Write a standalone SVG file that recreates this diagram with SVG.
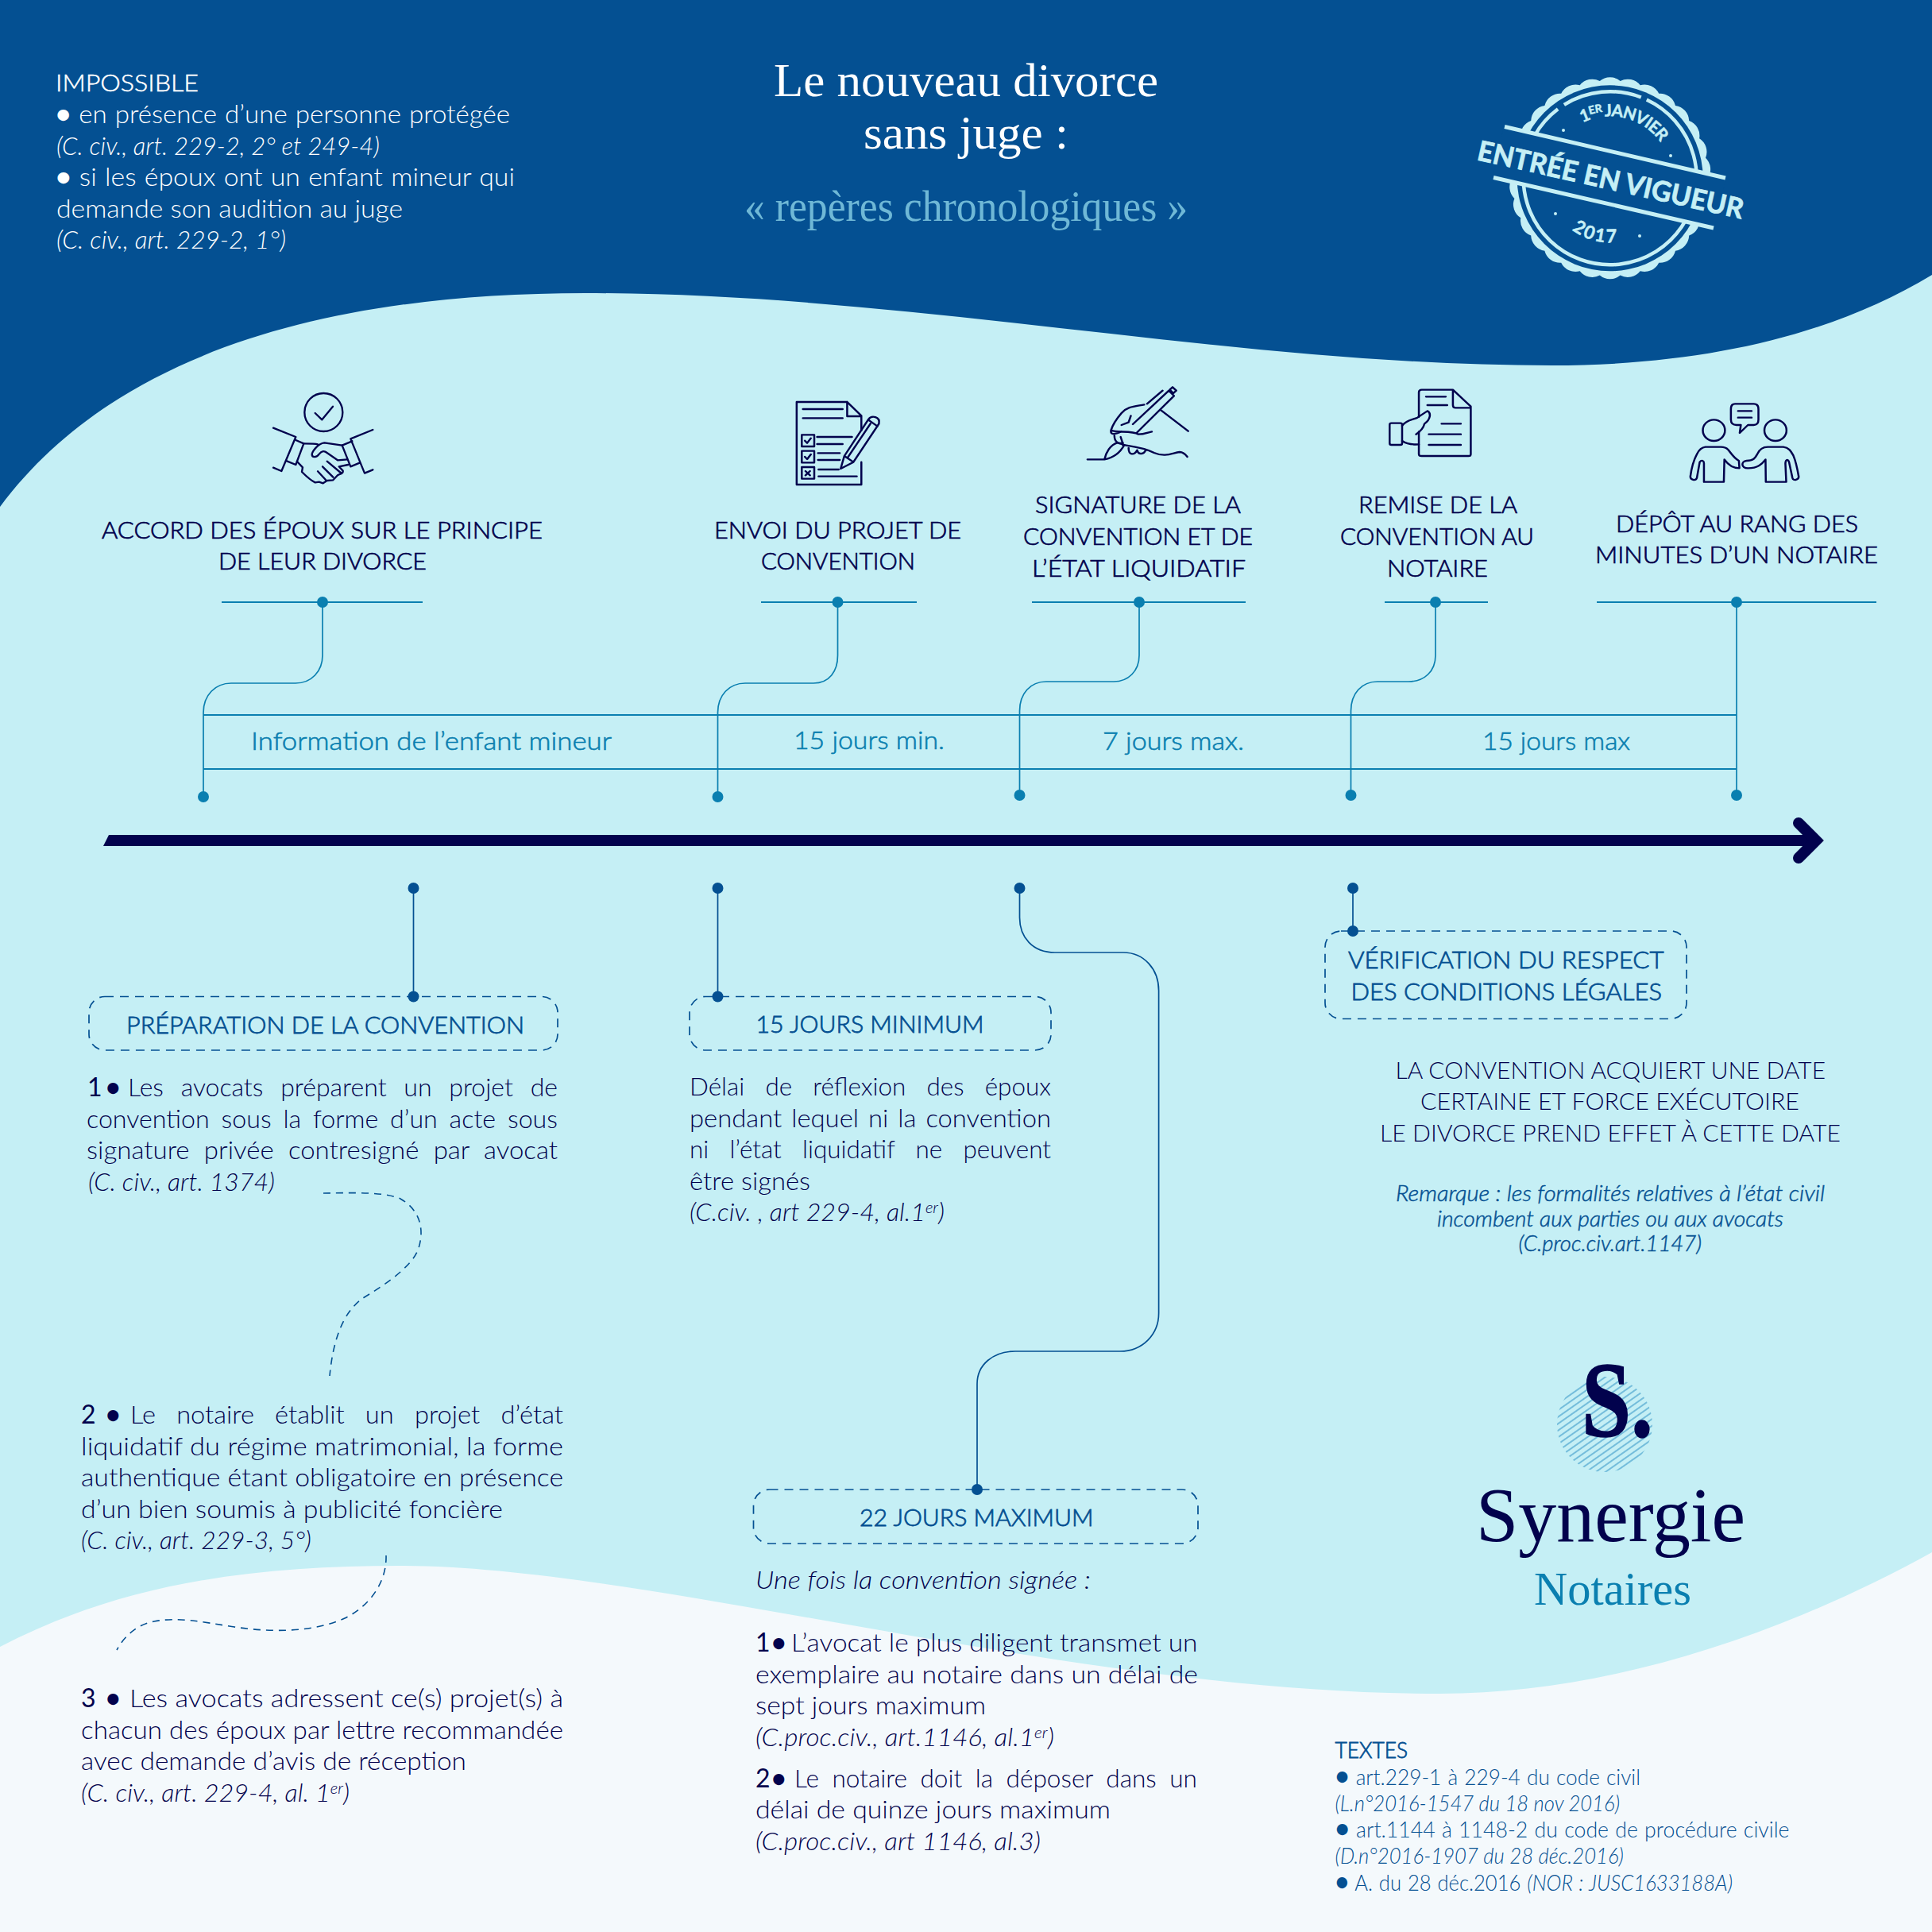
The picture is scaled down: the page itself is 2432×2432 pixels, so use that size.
<svg xmlns="http://www.w3.org/2000/svg" width="2432" height="2432" viewBox="0 0 2432 2432">
<style>
text{font-family:Lato,"Noto Sans",sans-serif;font-weight:300;font-size:32px;fill:#02024d}
.w{fill:#fff;font-size:32px}
.i{font-style:italic}
.h{font-size:30px;stroke:#02024d;stroke-width:.7}
.cap{font-size:30px}
.bl{fill:#045092;font-size:30px;stroke:#045092;stroke-width:.8}
.t{fill:#0a7fb0;font-size:32px;stroke:#0a7fb0;stroke-width:.6}
.s{font-family:"Liberation Serif",serif;font-weight:400}
.b{font-weight:700;font-size:32px}
.n{font-weight:400}
.sup{font-size:20px}
.rem{fill:#045092;font-size:27px;font-style:italic;stroke:#045092;stroke-width:.5}
.tx{fill:#045092;font-size:27px}
.st{fill:#c5eff5;font-weight:700;stroke:#c5eff5;stroke-width:.5}
.ico{fill:none;stroke:#02024d;stroke-width:7;stroke-linecap:round;stroke-linejoin:round}
.lt{fill:none;stroke:#0a7fb0;stroke-width:1.7}
.lb{fill:none;stroke:#045092;stroke-width:1.7}
.box{fill:none;stroke:#045092;stroke-width:1.7;stroke-dasharray:11 8}
.dash{fill:none;stroke:#045092;stroke-width:1.6;stroke-dasharray:9 7}
.dt{fill:#0a7fb0}
.db{fill:#045092}
</style>
<defs>
<pattern id="hatch" width="7" height="7" patternUnits="userSpaceOnUse" patternTransform="rotate(-35)"><line x1="0" y1="3" x2="7" y2="3" stroke="#5fb0d5" stroke-width="1.6"/></pattern>
<path id="arcTop" d="M-39,-67.5 A78,78 0 0 1 67.5,-39"/>
<path id="arcBot" d="M-52,62 A81,81 0 0 0 14,79.8"/>
</defs>

<g id="background">
<rect width="2432" height="2432" fill="#045092"/>
<path fill="#c5eff5" d="M0,638 C140,450 400,369 737,369 C1150,369 1550,460 1953,460 C2150,460 2310,420 2432,346 V2432 H0 Z"/>
<path fill="#f4f9fc" d="M0,2073 C150,1995 310,1971 504,1971 C820,1971 1350,2132 1813,2132 C2020,2132 2240,2060 2432,1954 V2432 H0 Z"/>
</g>

<g id="impossible">
<text class="w" x="70" y="115" style="font-size:30px;stroke:#fff;stroke-width:.5" textLength="180" lengthAdjust="spacingAndGlyphs">IMPOSSIBLE</text>
<text class="w" x="70" y="155" textLength="572" lengthAdjust="spacingAndGlyphs" word-spacing="1"><tspan class="b">•</tspan> en présence d’une personne protégée</text>
<text class="w i" x="71" y="195" textLength="407" lengthAdjust="spacingAndGlyphs">(C. civ., art. 229-2, 2° et 249-4)</text>
<text class="w" x="70" y="234" textLength="578" lengthAdjust="spacingAndGlyphs" word-spacing="1"><tspan class="b">•</tspan> si les époux ont un enfant mineur qui</text>
<text class="w" x="71" y="274" textLength="436" lengthAdjust="spacingAndGlyphs">demande son audition au juge</text>
<text class="w i" x="71" y="313" textLength="289" lengthAdjust="spacingAndGlyphs">(C. civ., art. 229-2, 1°)</text>
</g>

<g id="title">
<text class="s" x="974" y="121" style="fill:#fff;font-size:60px" textLength="484" lengthAdjust="spacingAndGlyphs">Le nouveau divorce</text>
<text class="s" x="1087" y="187" style="fill:#fff;font-size:60px" textLength="258" lengthAdjust="spacingAndGlyphs">sans juge :</text>
<text class="s" x="937" y="278" style="fill:#6fb8d6;font-size:54px" textLength="558" lengthAdjust="spacingAndGlyphs">« repères chronologiques »</text>
</g>

<g id="stamp">
<g transform="translate(2026.7,224.3)">
<path fill="#c5eff5" d="M123,0 A20 20 0 0 1 120.3,25.6 A20 20 0 0 1 112.4,50 A20 20 0 0 1 99.5,72.3 A20 20 0 0 1 82.3,91.4 A20 20 0 0 1 61.5,106.5 A20 20 0 0 1 38,117 A20 20 0 0 1 12.9,122.3 A20 20 0 0 1 -12.9,122.3 A20 20 0 0 1 -38,117 A20 20 0 0 1 -61.5,106.5 A20 20 0 0 1 -82.3,91.4 A20 20 0 0 1 -99.5,72.3 A20 20 0 0 1 -112.4,50 A20 20 0 0 1 -120.3,25.6 A20 20 0 0 1 -123,0 A20 20 0 0 1 -120.3,-25.6 A20 20 0 0 1 -112.4,-50 A20 20 0 0 1 -99.5,-72.3 A20 20 0 0 1 -82.3,-91.4 A20 20 0 0 1 -61.5,-106.5 A20 20 0 0 1 -38,-117 A20 20 0 0 1 -12.9,-122.3 A20 20 0 0 1 12.9,-122.3 A20 20 0 0 1 38,-117 A20 20 0 0 1 61.5,-106.5 A20 20 0 0 1 82.3,-91.4 A20 20 0 0 1 99.5,-72.3 A20 20 0 0 1 112.4,-50 A20 20 0 0 1 120.3,-25.6 A20 20 0 0 1 123,0 Z"/>
<circle r="117" fill="#045092"/>
<path d="M46.1,-98.8 A109,109 0 1 1 -65.6,-87.1 M-57.8,-92.4 A109,109 0 0 1 39.1,-101.8" fill="none" stroke="#c5eff5" stroke-width="4.5"/>
<text class="st" style="font-size:21px"><textPath href="#arcTop" startOffset="5" textLength="110" lengthAdjust="spacing">1<tspan style="font-size:14px" dy="-6">ER </tspan><tspan dy="6">JANVIER</tspan></textPath></text>
<text class="st" style="font-size:23px"><textPath href="#arcBot" startOffset="5" textLength="60" lengthAdjust="spacing">2017</textPath></text>
</g>
<polygon points="1893,159 2173,224 2158,287 1879,223" fill="#045092"/>
<path d="M1894,159.5 L2172,224 M1880,223.5 L2157,287" stroke="#c5eff5" stroke-width="5" fill="none"/>
<text class="st" transform="translate(1858,201) rotate(12.6)" style="font-size:35px;stroke-width:.8" textLength="342" lengthAdjust="spacingAndGlyphs">ENTRÉE EN VIGUEUR</text>
<g fill="#c5eff5"><circle cx="1968" cy="164" r="2"/><circle cx="2103" cy="196" r="2"/><circle cx="1958" cy="269" r="2"/><circle cx="2064" cy="297" r="2"/></g>
</g>

<g id="connectors">
<path class="lt" style="stroke-width:2" d="M279,758 H532 M958,758 H1154 M1299,758 H1568 M1743,758 H1873 M2010,758 H2362"/>
<path class="lt" style="stroke-width:2" d="M256,900 H2186 M256,968 H2186"/>
<path class="lt" d="M406,758 V825 C406,845 392,860 372,860 H291 C271,860 256,875 256,897 V1003"/>
<path class="lt" d="M1054.5,758 V825 C1054.5,845 1044,860 1024,860 H938 C918,860 903.5,875 903.5,897 V1003"/>
<path class="lt" d="M1434,758 V825 C1434,845 1420,858 1402,858 H1317 C1297,858 1283.5,873 1283.5,895 V1001"/>
<path class="lt" d="M1807,758 V825 C1807,845 1793,858 1773,858 H1734 C1714,858 1700.5,873 1700.5,895 V1001"/>
<path class="lt" d="M2186,758 V1001"/>
<path class="lb" d="M520.5,1118 V1254"/>
<path class="lb" d="M903.5,1118 V1254"/>
<path class="lb" d="M1283.5,1118 V1155 C1283.5,1180 1300,1199 1328,1199 H1414 C1440,1199 1458.6,1220 1458.6,1247 V1653 C1458.6,1680 1438,1701 1410,1701 H1278 C1250,1701 1230,1718 1230,1742 V1875"/>
<path class="lb" d="M1703,1118 V1172"/>
<path class="dash" d="M407,1502 C434,1502 481,1499 504,1509 C527,1522 535,1545 527,1571 C519,1597 473,1624 457,1634 C430,1653 419,1690 415,1732"/>
<path class="dash" d="M486,1958 C487,1992 465,2022 434,2037 C395,2055 341,2055 295,2048 C256,2042 225,2035 194,2041 C171,2045 155,2062 147,2077"/>
<g class="dt"><circle cx="406" cy="758" r="7"/><circle cx="1054.5" cy="758" r="7"/><circle cx="1434" cy="758" r="7"/><circle cx="1807" cy="758" r="7"/><circle cx="2186" cy="758" r="7"/><circle cx="256" cy="1003" r="7"/><circle cx="903.5" cy="1003" r="7"/><circle cx="1283.5" cy="1001" r="7"/><circle cx="1700.5" cy="1001" r="7"/><circle cx="2186" cy="1001" r="7"/></g>
<g class="db"><circle cx="520.5" cy="1118" r="7"/><circle cx="903.5" cy="1118" r="7"/><circle cx="1283.5" cy="1118" r="7"/><circle cx="1703" cy="1118" r="7"/><circle cx="520.5" cy="1254.5" r="7"/><circle cx="903.5" cy="1254.5" r="7"/><circle cx="1230" cy="1875" r="7"/><circle cx="1703" cy="1172" r="7"/></g>
</g>

<g id="timeline">
<polygon points="137,1051 2285,1051 2285,1065 130,1065" fill="#02024d"/>
<path d="M2264,1036 L2286,1058 L2264,1080" fill="none" stroke="#02024d" stroke-width="14" stroke-linecap="round"/>
</g>

<g id="step-accord">
<g transform="translate(300,470) scale(.3333)" class="ico">
<circle cx="322" cy="147" r="72"/><path d="M290,150 L316,175 L357,125"/>
<path d="M132,206 L217,240 L163,369 L132,356 M508,213 L424,247 L477,377 L508,364"/>
<path d="M217,252 L247,265 L217,345 L183,331 M392,272 L430,256 M392,272 L424,352 L458,338"/>
<path d="M247,265 C270,265 290,265 300,268 M325,262 C300,265 280,295 278,305 C278,318 295,320 305,305 C315,292 325,292 335,300 L375,328 L412,325 M325,262 L392,272"/>
<path d="M415,345 L380,352 L395,368 C398,380 385,378 375,385 L358,403 L335,405 L320,415 L305,410 L290,412 C275,405 260,392 240,372 L243,355 L222,333"/>
<path d="M300,370 L330,402 M318,352 L358,392 M335,332 L390,378"/>
</g>
<text class="h" x="128" y="678" textLength="555" lengthAdjust="spacingAndGlyphs">ACCORD DES ÉPOUX SUR LE PRINCIPE</text>
<text class="h" x="275" y="717" textLength="262" lengthAdjust="spacingAndGlyphs">DE LEUR DIVORCE</text>
</g>

<g id="step-envoi">
<g transform="translate(960,470) scale(.3571,.3333)" class="ico">
<path d="M298,108 H120 V420 H348 V335 M348,215 V160 L298,108 V162 H348"/>
<path d="M142,135 H282 M142,169 H282 M192,240 H315 M192,267 H282 M195,301 H272 M195,327 H272 M197,363 H268 M197,389 H332"/>
<rect x="138" y="232" width="44" height="44"/><rect x="138" y="293" width="44" height="44"/><rect x="138" y="354" width="44" height="44"/>
<path d="M149,254 L157,263 L170,245 M149,315 L157,324 L170,306 M151,369 L167,385 M167,369 L151,385"/>
<path d="M275,360 L288,312 L372,175 C385,155 415,165 410,190 L320,335 Z M288,312 L320,335 M300,318 L380,190 M372,175 L405,200"/>
</g>
<text class="h" x="899" y="678" textLength="311" lengthAdjust="spacingAndGlyphs">ENVOI DU PROJET DE</text>
<text class="h" x="958" y="717" textLength="194" lengthAdjust="spacingAndGlyphs">CONVENTION</text>
</g>

<g id="step-signature">
<g transform="translate(960,470) scale(.3571,.3333)" class="ico">
<path d="M1318,225 L1450,85 L1432,65 L1305,192 M1355,115 L1410,65 M1435,62 L1445,52 L1458,65 L1448,75 Z M1405,140 L1500,218"/>
<path d="M1345,118 C1310,125 1285,125 1265,150 C1245,175 1235,190 1228,215 C1225,235 1245,230 1265,220 M1265,195 L1290,185 L1298,160 M1228,215 C1250,225 1300,215 1325,230 C1345,230 1360,222 1372,220"/>
<path d="M1240,235 C1240,260 1255,268 1270,262 M1262,240 C1270,265 1270,270 1270,270"/>
<path d="M1205,325 C1210,300 1225,270 1250,262 L1275,270 C1260,300 1240,318 1205,325 M1145,325 H1205"/>
<path d="M1270,270 C1300,275 1345,280 1380,300 C1420,318 1445,300 1470,297 C1480,297 1490,305 1497,315 M1290,282 C1290,310 1310,310 1320,290 C1325,310 1345,305 1350,290"/>
</g>
<text class="h" x="1303" y="646" textLength="259" lengthAdjust="spacingAndGlyphs">SIGNATURE DE LA</text>
<text class="h" x="1288" y="686" textLength="289" lengthAdjust="spacingAndGlyphs">CONVENTION ET DE</text>
<text class="h" x="1299" y="726" textLength="269" lengthAdjust="spacingAndGlyphs">L’ÉTAT LIQUIDATIF</text>
</g>

<g id="step-remise">
<g transform="translate(1720,460) scale(.3571,.3333)" class="ico">
<path d="M305,92 H195 Q185,92 185,102 V195 M185,250 V335 Q185,342 195,342 H360 Q368,342 368,335 V155 L305,92 V150 Q305,160 315,160 H368"/>
<path d="M210,118 H280 M215,150 H285 M265,220 H333 M220,260 H333 M220,300 H333"/>
<rect x="82" y="218" width="44" height="82" rx="6"/>
<path d="M126,228 C140,205 165,205 180,197 L215,172 C230,180 225,205 205,220 C200,240 190,250 175,260 M126,285 C140,295 160,300 185,298"/>
</g>
<text class="h" x="1710" y="646" textLength="200" lengthAdjust="spacingAndGlyphs">REMISE DE LA</text>
<text class="h" x="1687" y="686" textLength="244" lengthAdjust="spacingAndGlyphs">CONVENTION AU</text>
<text class="h" x="1746" y="726" textLength="127" lengthAdjust="spacingAndGlyphs">NOTAIRE</text>
</g>

<g id="step-depot">
<g transform="translate(1720,460) scale(.3571,.3333)" class="ico">
<ellipse cx="1225" cy="245" rx="39" ry="40"/><ellipse cx="1442" cy="245" rx="39" ry="40"/>
<path d="M1300,145 H1365 Q1382,145 1382,165 V205 Q1382,225 1365,225 H1345 L1316,255 L1320,225 H1305 Q1285,225 1285,205 V165 Q1285,145 1300,145 Z M1310,172 H1358 M1310,197 H1358"/>
<path d="M1190,440 H1260 L1262,355 C1275,375 1290,388 1315,388 L1313,360 C1295,350 1285,330 1275,318 C1268,310 1260,308 1250,308 H1195 C1180,310 1172,320 1165,335 C1150,365 1145,395 1142,420 C1142,432 1160,438 1165,425 L1175,365 C1182,355 1190,360 1190,370 Z"/>
<path d="M1480,440 H1408 L1407,355 C1395,372 1380,388 1345,388 C1320,388 1320,362 1340,360 C1365,360 1370,350 1378,335 C1385,318 1395,308 1415,308 H1470 C1490,310 1497,325 1505,340 C1515,365 1520,395 1524,420 C1524,432 1505,438 1502,425 L1490,365 C1485,352 1478,355 1477,370 Z"/>
</g>
<text class="h" x="2034" y="670" textLength="305" lengthAdjust="spacingAndGlyphs">DÉPÔT AU RANG DES</text>
<text class="h" x="2008" y="709" textLength="356" lengthAdjust="spacingAndGlyphs">MINUTES D’UN NOTAIRE</text>
</g>

<g id="durations">
<text class="t" x="316" y="944" textLength="454" lengthAdjust="spacingAndGlyphs">Information de l’enfant mineur</text>
<text class="t" x="999" y="943" textLength="190" lengthAdjust="spacingAndGlyphs">15 jours min.</text>
<text class="t" x="1388" y="944" textLength="178" lengthAdjust="spacingAndGlyphs">7 jours max.</text>
<text class="t" x="1866" y="944" textLength="186" lengthAdjust="spacingAndGlyphs">15 jours max</text>
</g>

<g id="preparation">
<rect class="box" x="112" y="1254.5" width="590" height="67.5" rx="20"/>
<text class="bl" x="159" y="1301" textLength="501" lengthAdjust="spacingAndGlyphs">PRÉPARATION DE LA CONVENTION</text>
<text x="110" y="1380"><tspan class="n">1</tspan><tspan class="b" x="133">•</tspan></text>
<text x="161" y="1380" textLength="541" lengthAdjust="spacingAndGlyphs" word-spacing="13">Les avocats préparent un projet de</text>
<text x="109" y="1419.5" textLength="593" lengthAdjust="spacingAndGlyphs" word-spacing="6">convention sous la forme d’un acte sous</text>
<text x="109" y="1459" textLength="593" lengthAdjust="spacingAndGlyphs" word-spacing="9">signature privée contresigné par avocat</text>
<text class="i" x="111" y="1498.5" textLength="235" lengthAdjust="spacingAndGlyphs">(C. civ., art. 1374)</text>
</g>

<g id="preparation-2">
<text x="102" y="1792"><tspan class="n">2</tspan><tspan class="b" x="133">•</tspan></text>
<text x="164" y="1792" textLength="545" lengthAdjust="spacingAndGlyphs" word-spacing="17">Le notaire établit un projet d’état</text>
<text x="102" y="1831.5" textLength="607" lengthAdjust="spacingAndGlyphs">liquidatif du régime matrimonial, la forme</text>
<text x="102" y="1871" textLength="607" lengthAdjust="spacingAndGlyphs">authentique étant obligatoire en présence</text>
<text x="102" y="1910.5" textLength="531" lengthAdjust="spacingAndGlyphs">d’un bien soumis à publicité foncière</text>
<text class="i" x="102" y="1950" textLength="290" lengthAdjust="spacingAndGlyphs">(C. civ., art. 229-3, 5°)</text>
</g>

<g id="preparation-3">
<text x="102" y="2149"><tspan class="n">3</tspan><tspan class="b" x="133">•</tspan></text>
<text x="163" y="2149" textLength="546" lengthAdjust="spacingAndGlyphs">Les avocats adressent ce(s) projet(s) à</text>
<text x="102" y="2188.5" textLength="607" lengthAdjust="spacingAndGlyphs">chacun des époux par lettre recommandée</text>
<text x="102" y="2228" textLength="485" lengthAdjust="spacingAndGlyphs">avec demande d’avis de réception</text>
<text class="i" x="102" y="2267.5" textLength="338" lengthAdjust="spacingAndGlyphs">(C. civ., art. 229-4, al. 1<tspan class="sup" dy="-10">er</tspan><tspan dy="10">)</tspan></text>
</g>

<g id="quinze-jours">
<rect class="box" x="868" y="1254.5" width="455" height="67.5" rx="20"/>
<text class="bl" x="951.5" y="1300" textLength="287" lengthAdjust="spacingAndGlyphs">15 JOURS MINIMUM</text>
<text x="868" y="1378.5" textLength="455" lengthAdjust="spacingAndGlyphs" word-spacing="18">Délai de réflexion des époux</text>
<text x="868" y="1418.5" textLength="455" lengthAdjust="spacingAndGlyphs" word-spacing="3">pendant lequel ni la convention</text>
<text x="868" y="1458" textLength="455" lengthAdjust="spacingAndGlyphs" word-spacing="18">ni l’état liquidatif ne peuvent</text>
<text x="868" y="1497.5" textLength="152" lengthAdjust="spacingAndGlyphs">être signés</text>
<text class="i" x="868" y="1537" textLength="321" lengthAdjust="spacingAndGlyphs">(C.civ. , art 229-4, al.1<tspan class="sup" dy="-10">er</tspan><tspan dy="10">)</tspan></text>
</g>

<g id="vingt-deux-jours">
<rect class="box" x="948.5" y="1875" width="559.5" height="68" rx="20"/>
<text class="bl" x="1082" y="1921" textLength="294.5" lengthAdjust="spacingAndGlyphs">22 JOURS MAXIMUM</text>
<text class="i" x="951" y="1999.5" textLength="422" lengthAdjust="spacingAndGlyphs">Une fois la convention signée :</text>
<text x="951" y="2079"><tspan class="n">1</tspan><tspan class="b" x="971">•</tspan></text>
<text x="996" y="2079" textLength="511.5" lengthAdjust="spacingAndGlyphs">L’avocat le plus diligent transmet un</text>
<text x="951" y="2118.5" textLength="557" lengthAdjust="spacingAndGlyphs">exemplaire au notaire dans un délai de</text>
<text x="951" y="2158" textLength="290" lengthAdjust="spacingAndGlyphs">sept jours maximum</text>
<text class="i" x="951" y="2197.5" textLength="376" lengthAdjust="spacingAndGlyphs">(C.proc.civ., art.1146, al.1<tspan class="sup" dy="-10">er</tspan><tspan dy="10">)</tspan></text>
<text x="951" y="2249.5"><tspan class="n">2</tspan><tspan class="b" x="971">•</tspan></text>
<text x="1000" y="2249.5" textLength="507" lengthAdjust="spacingAndGlyphs" word-spacing="8">Le notaire doit la déposer dans un</text>
<text x="951" y="2289" textLength="447" lengthAdjust="spacingAndGlyphs">délai de quinze jours maximum</text>
<text class="i" x="951" y="2328.5" textLength="359" lengthAdjust="spacingAndGlyphs">(C.proc.civ., art 1146, al.3)</text>
</g>

<g id="verification">
<rect class="box" x="1668" y="1172" width="455" height="110.5" rx="20"/>
<text class="bl" x="1697" y="1219" textLength="397.5" lengthAdjust="spacingAndGlyphs">VÉRIFICATION DU RESPECT</text>
<text class="bl" x="1700.5" y="1259" textLength="391.5" lengthAdjust="spacingAndGlyphs">DES CONDITIONS LÉGALES</text>
<text class="cap" x="1756.5" y="1357.5" textLength="541.5" lengthAdjust="spacingAndGlyphs">LA CONVENTION ACQUIERT UNE DATE</text>
<text class="cap" x="1788" y="1397" textLength="477" lengthAdjust="spacingAndGlyphs">CERTAINE ET FORCE EXÉCUTOIRE</text>
<text class="cap" x="1737" y="1436.5" textLength="580" lengthAdjust="spacingAndGlyphs">LE DIVORCE PREND EFFET À CETTE DATE</text>
<text class="rem" x="1757" y="1512" textLength="540" lengthAdjust="spacingAndGlyphs">Remarque : les formalités relatives à l’état civil</text>
<text class="rem" x="1809" y="1543.5" textLength="436" lengthAdjust="spacingAndGlyphs">incombent aux parties ou aux avocats</text>
<text class="rem" x="1911.5" y="1574.5" textLength="230.5" lengthAdjust="spacingAndGlyphs">(C.proc.civ.art.1147)</text>
</g>

<g id="logo">
<circle cx="2020" cy="1793" r="60" fill="url(#hatch)"/>
<text class="s" x="1991" y="1808" style="font-size:135px;font-weight:700;stroke:#02024d;stroke-width:1.5" textLength="90" lengthAdjust="spacingAndGlyphs">S.</text>
<text class="s" x="1858" y="1940" style="font-size:98px" textLength="339" lengthAdjust="spacingAndGlyphs">Synergie</text>
<text class="s" x="1931" y="2020" style="font-size:60px;fill:#0a7fb0" textLength="198" lengthAdjust="spacingAndGlyphs">Notaires</text>
</g>

<g id="textes">
<text class="bl" x="1680.5" y="2213" style="font-size:27px" textLength="91.5" lengthAdjust="spacingAndGlyphs">TEXTES</text>
<text class="tx" x="1680.5" y="2246.5" textLength="384.5" lengthAdjust="spacingAndGlyphs" word-spacing="1"><tspan class="b">•</tspan> art.229-1 à 229-4 du code civil</text>
<text class="tx i" x="1680.5" y="2280" textLength="358.5" lengthAdjust="spacingAndGlyphs">(L.n°2016-1547 du 18 nov 2016)</text>
<text class="tx" x="1680.5" y="2313" textLength="572" lengthAdjust="spacingAndGlyphs" word-spacing="1"><tspan class="b">•</tspan> art.1144 à 1148-2 du code de procédure civile</text>
<text class="tx i" x="1680.5" y="2346" textLength="363.5" lengthAdjust="spacingAndGlyphs">(D.n°2016-1907 du 28 déc.2016)</text>
<text class="tx" x="1680.5" y="2379.5" textLength="500.5" lengthAdjust="spacingAndGlyphs" word-spacing="1"><tspan class="b">•</tspan> A. du 28 déc.2016 <tspan class="i">(NOR : JUSC1633188A)</tspan></text>
</g>
</svg>
